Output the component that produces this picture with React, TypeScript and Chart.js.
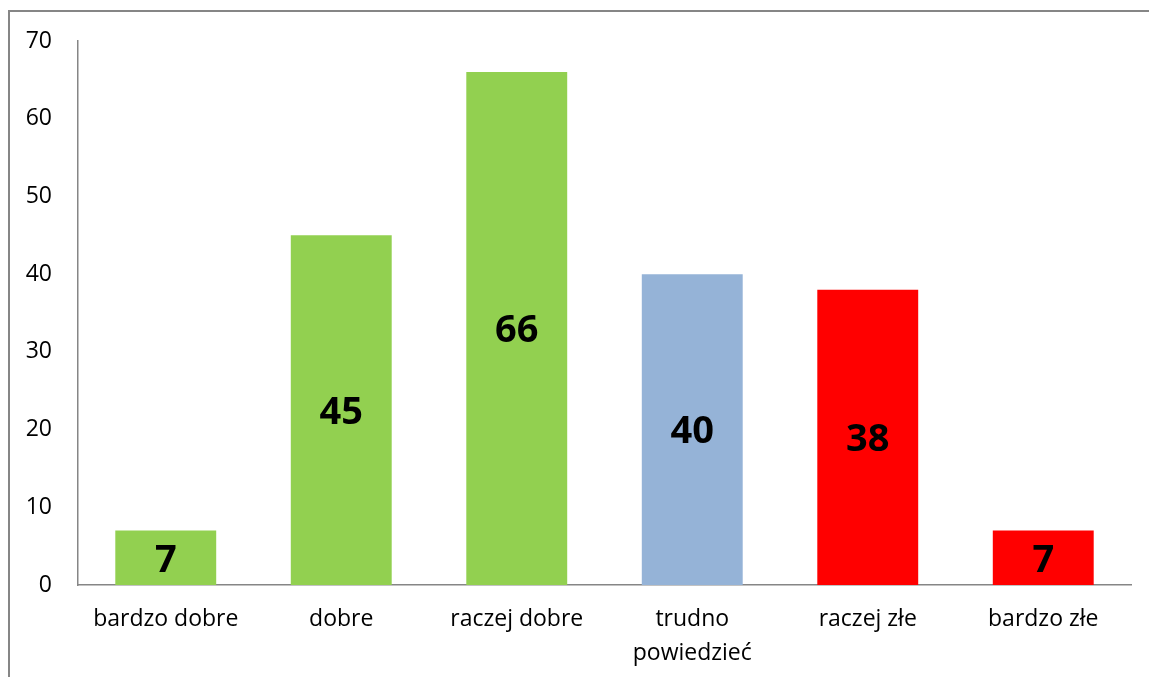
import React, { useEffect, useRef } from "react";
import { Chart, registerables } from "chart.js";

Chart.register(...registerables);

const categories: (string | string[])[] = [
  "bardzo dobre",
  "dobre",
  "raczej dobre",
  ["trudno", "powiedzieć"],
  "raczej złe",
  "bardzo złe",
];
const values: number[] = [7, 45, 66, 40, 38, 7];
const barColors: string[] = ["#92D050", "#92D050", "#92D050", "#95B3D7", "#FF0000", "#FF0000"];
const yMin = 0;
const yMax = 70;
const yStep = 10;

const FONT = "'Open Sans', 'DejaVu Sans', sans-serif";

const labelPlugin = {
  id: "centerLabels",
  afterDatasetsDraw(chart: any) {
    const { ctx } = chart;
    const meta = chart.getDatasetMeta(0);
    ctx.save();
    ctx.font = `bold 38px ${FONT}`;
    ctx.fillStyle = "#000000";
    ctx.textAlign = "center";
    ctx.textBaseline = "middle";
    meta.data.forEach((bar: any, i: number) => {
      const p = bar.getProps(["x", "y", "base"], true);
      ctx.fillText(String(values[i]), p.x, (p.y + p.base) / 2 + 3);
    });
    ctx.restore();
  },
};

export default function App() {
  const ref = useRef<HTMLCanvasElement>(null);
  useEffect(() => {
    if (!ref.current) return;
    const chart = new Chart(ref.current, {
      type: "bar",
      data: {
        labels: categories,
        datasets: [
          {
            data: values,
            backgroundColor: barColors,
            borderWidth: 0,
            barPercentage: 0.575,
            categoryPercentage: 1,
          },
        ],
      },
      options: {
        animation: false,
        responsive: false,
        maintainAspectRatio: false,
        layout: { padding: { top: 41, right: 18, left: 0, bottom: 0 } },
        plugins: {
          legend: { display: false },
          tooltip: { enabled: false },
        },
        scales: {
          x: {
            grid: { display: false, drawTicks: false },
            border: { display: true, color: "#868686", width: 1.5 },
            ticks: {
              color: "#000000",
              font: { family: FONT, size: 23, lineHeight: 1.5 },
              padding: 17,
              maxRotation: 0,
              autoSkip: false,
            },
            afterFit: (s: any) => {
              s.height = 677 - 585;
            },
          },
          y: {
            min: yMin,
            max: yMax,
            grid: { display: false, drawTicks: false },
            border: { display: true, color: "#868686", width: 1.5 },
            ticks: {
              stepSize: yStep,
              color: "#000000",
              font: { family: FONT, size: 23 },
              padding: 26,
            },
            afterFit: (s: any) => {
              s.width = 78;
            },
          },
        },
      },
      plugins: [labelPlugin],
    });
    return () => chart.destroy();
  }, []);

  return (
    <div
      style={{
        position: "fixed",
        left: 0,
        top: 0,
        width: 1149,
        height: 677,
        background: "#ffffff",
        overflow: "hidden",
      }}
    >
      <div
        style={{
          position: "absolute",
          left: 8,
          top: 10,
          width: 1200,
          height: 760,
          borderLeft: "2px solid #868686",
          borderTop: "2px solid #868686",
        }}
      />
      <canvas
        ref={ref}
        width={1149}
        height={677}
        style={{ position: "absolute", left: 0, top: 0, width: 1149, height: 677 }}
      />
    </div>
  );
}
